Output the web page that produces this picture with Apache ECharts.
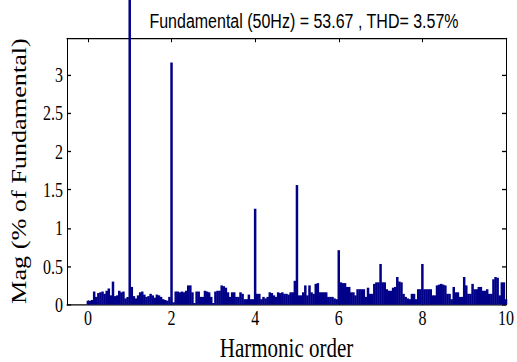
<!DOCTYPE html>
<html><head><meta charset="utf-8">
<script src="https://cdn.jsdelivr.net/npm/echarts@6/dist/echarts.min.js"></script>
<style>
html,body{margin:0;padding:0;background:#fff;overflow:hidden;}
#wrap{width:517px;height:362px;overflow:hidden;position:relative;}
#chart{width:517px;height:276px;transform:scaleY(1.3116);transform-origin:0 0;}
</style></head>
<body><div id="wrap"><div id="chart"></div></div>
<script>
const titleText = 'Fundamental (50Hz) = 53.67 , THD= 3.57%';
const xAxisName = 'Harmonic order';
const yAxisName = 'Mag (% of Fundamental)';
const xTicks = [0, 2, 4, 6, 8, 10];
const yTicks = [0, 0.5, 1, 1.5, 2, 2.5, 3];
const binWidth = 0.05; // harmonic order per FFT bin (2.5 Hz / 50 Hz)
const magnitudes = [
  0.05,0.05,0.06,0.17,0.10,0.15,0.16,0.17,0.14,0.18,
  0.21,0.12,0.30,0.11,0.12,0.18,0.16,0.17,0.08,0.10,
  100,
  0.23,0.11,0.08,0.12,0.16,0.17,0.13,0.10,0.11,0.14,
  0.12,0.09,0.13,0.12,0.10,0.07,0.06,0.05,0.10,
  3.16,
  0.03,0.17,0.17,0.16,0.17,0.16,0.18,0.25,0.25,0.16,
  0.02,0.17,0.17,0.10,0.10,0.18,0.17,0.16,0.10,0.02,
  0.17,0.18,0.18,0.25,0.24,0.22,0.16,0.10,0.16,0.16,
  0.10,0.10,0.16,0.14,0.07,0.07,0.13,0.07,0.07,
  1.25,
  0.14,0.14,0.07,0.10,0.08,0.10,0.16,0.15,0.12,0.10,
  0.16,0.15,0.16,0.14,0.14,0.13,0.16,0.16,0.31,
  1.56,
  0.12,0.12,0.16,0.25,0.12,0.25,0.16,0.14,0.27,0.28,
  0.16,0.16,0.16,0.16,0.10,0.10,0.10,0.08,0.07,
  0.71,
  0.29,0.28,0.28,0.23,0.23,0.16,0.16,0.12,0.20,0.20,
  0.20,0.20,0.10,0.22,0.14,0.14,0.27,0.29,0.29,
  0.53,
  0.29,0.29,0.20,0.18,0.18,0.22,0.23,0.36,0.30,0.29,
  0.14,0.10,0.08,0.07,0.14,0.14,0.07,0.20,0.20,
  0.53,
  0.20,0.20,0.20,0.20,0.12,0.12,0.25,0.26,0.27,0.26,
  0.25,0.14,0.14,0.07,0.23,0.16,0.16,0.10,0.10,0.36,
  0.25,0.14,0.14,0.27,0.20,0.20,0.23,0.23,0.18,0.18,
  0.20,0.14,0.14,0.33,0.36,0.35,0.12,0.29,0.29,0.07
];
const xMin = -0.5, xMax = 10, yMax = 3.476;

const seriesData = magnitudes.map((v, i) => [+(i * binWidth).toFixed(2), v]);

const serif = '"Liberation Serif", "Times New Roman", serif';
const sans = '"Liberation Sans", Arial, sans-serif';

function xAx(pos, showLabel) {
  return {
    type: 'value', min: xMin, max: xMax, position: pos,
    axisLine: { show: true, onZero: false, lineStyle: { color: '#000', width: 1 } },
    axisTick: { show: true, inside: true, length: 3, customValues: xTicks, lineStyle: { color: '#000' } },
    axisLabel: { show: showLabel, customValues: xTicks, margin: 2, color: '#000', fontFamily: serif, fontSize: 16 },
    splitLine: { show: false }
  };
}
function yAx(pos, showLabel) {
  return {
    type: 'value', min: 0, max: yMax, position: pos,
    axisLine: { show: true, onZero: false, lineStyle: { color: '#000', width: 1 } },
    axisTick: { show: true, inside: true, length: 4, customValues: yTicks, lineStyle: { color: '#000' } },
    axisLabel: { show: showLabel, customValues: yTicks, margin: 4, color: '#000', fontFamily: serif, fontSize: 16 },
    splitLine: { show: false }
  };
}

const chart = echarts.init(document.getElementById('chart'), null, { renderer: 'svg' });
chart.setOption({
  animation: false,
  backgroundColor: '#fff',
  grid: { left: 67, right: 11, top: 29.2, bottom: 43.8 },
  xAxis: [xAx('bottom', true), xAx('top', false)],
  yAxis: [yAx('left', true), yAx('right', false)],
  series: [{
    type: 'bar', data: seriesData, xAxisIndex: 0, yAxisIndex: 0,
    barWidth: 2.5, clip: false,
    itemStyle: { color: '#000088' }
  }],
  graphic: [
    { type: 'text', x: 304, y: 16, style: { text: titleText, font: '16px ' + sans, textAlign: 'center', textVerticalAlign: 'middle', fill: '#000' } },
    { type: 'text', x: 286.5, y: 265, style: { text: xAxisName, font: '21px ' + serif, textAlign: 'center', textVerticalAlign: 'middle', fill: '#000' } },
    { type: 'text', x: 19, y: 130.4, rotation: Math.PI / 2, style: { text: yAxisName, font: '20px ' + serif, textAlign: 'center', textVerticalAlign: 'middle', fill: '#000' } }
  ]
});
</script>
</body></html>
